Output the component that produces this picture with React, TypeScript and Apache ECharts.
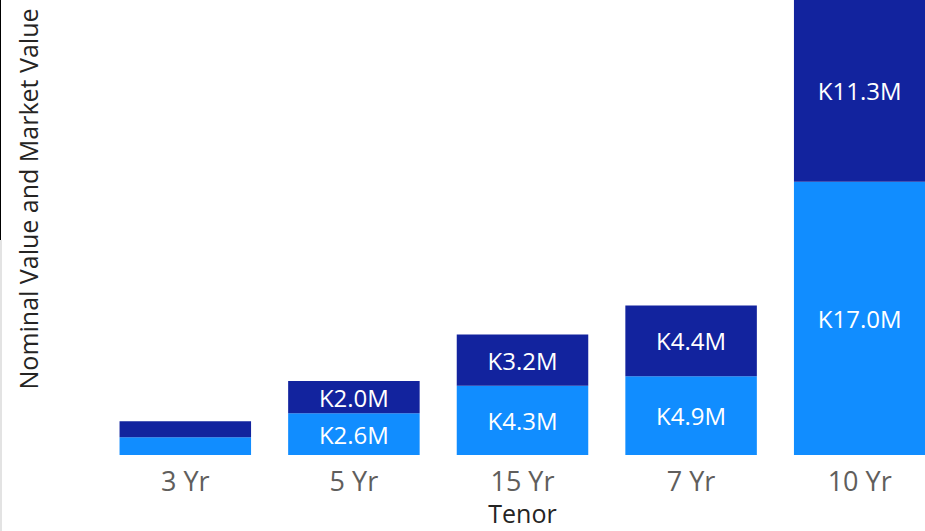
import React, { useEffect, useRef } from "react";
import * as echarts from "echarts";

const categories = ["3 Yr", "5 Yr", "15 Yr", "7 Yr", "10 Yr"];
const marketValue = [1.1, 2.6, 4.3, 4.9, 17.0];
const nominalValue = [1.0, 2.0, 3.2, 4.4, 11.3];
const showLabel = [false, true, true, true, true];

const FONT = "'Open Sans', 'Noto Sans', sans-serif";

export default function App() {
  const ref = useRef<HTMLDivElement>(null);
  useEffect(() => {
    if (!ref.current) return;
    const chart = echarts.init(ref.current, null, { renderer: "svg" });
    const mkData = (vals: number[]) =>
      vals.map((v, i) => ({ value: v, label: { show: showLabel[i] } }));
    const label = {
      show: true,
      position: "inside",
      color: "#ffffff",
      fontFamily: FONT,
      fontSize: 24,
      formatter: (p: any) => "K" + Number(p.value).toFixed(1) + "M",
    };
    chart.setOption({
      animation: false,
      textStyle: { fontFamily: FONT },
      grid: {
        left: 101,
        width: 843,
        top: 0,
        height: 455,
        containLabel: false,
        outerBoundsMode: "none",
      },
      xAxis: {
        type: "category",
        data: categories,
        axisLine: { show: false },
        axisTick: { show: false },
        axisLabel: { color: "#605E5C", fontSize: 27, fontFamily: FONT, margin: 12, lineHeight: 27 },
        name: "Tenor",
        nameLocation: "middle",
        nameGap: 45,
        nameTextStyle: { color: "#252423", fontSize: 25, fontFamily: FONT, lineHeight: 25 },
      },
      yAxis: {
        type: "value",
        min: 0,
        max: 28.3,
        show: false,
        splitLine: { show: false },
      },
      series: [
        {
          name: "Market Value",
          type: "bar",
          stack: "total",
          data: mkData(marketValue),
          itemStyle: { color: "#118DFF" },
          barCategoryGap: "22%",
          label,
        },
        {
          name: "Nominal Value",
          type: "bar",
          stack: "total",
          data: mkData(nominalValue),
          itemStyle: { color: "#12239E" },
          barCategoryGap: "22%",
          label,
        },
      ],
      graphic: [
        {
          type: "text",
          x: 28,
          y: 199,
          rotation: Math.PI / 2,
          style: {
            text: "Nominal Value and Market Value",
            fill: "#252423",
            fontSize: 25,
            fontFamily: FONT,
            align: "center",
            verticalAlign: "middle",
          },
        },
        { type: "line", shape: { x1: 0.5, y1: 0, x2: 0.5, y2: 240 }, style: { stroke: "#000", lineWidth: 1 } },
        { type: "line", shape: { x1: 1, y1: 240, x2: 1, y2: 531 }, style: { stroke: "#e3e3e3", lineWidth: 2 } },
      ],
    });
    return () => chart.dispose();
  }, []);
  return (
    <div
      ref={ref}
      style={{ position: "fixed", left: 0, top: 0, width: 925, height: 531, background: "#fff" }}
    />
  );
}
